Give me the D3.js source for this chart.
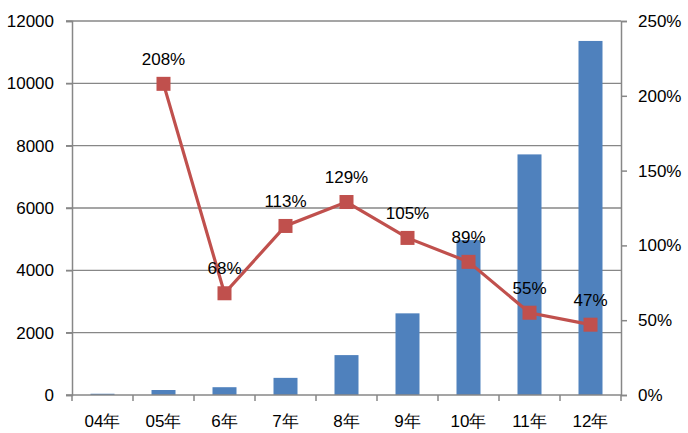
<!DOCTYPE html>
<html>
<head>
<meta charset="utf-8">
<script src="https://cdn.jsdelivr.net/npm/d3@7"></script>
<style>
  body { margin: 0; background: #fff; }
  svg { font-family: "Liberation Sans", Arial, sans-serif; }
</style>
</head>
<body>
<div id="chart"></div>
<script>
// data
var years = ['04年','05年','6年','7年','8年','9年','10年','11年','12年'];
var amounts = [40, 160, 250, 550, 1280, 2620, 4970, 7720, 11360];
var growth = [null, 2.08, 0.68, 1.13, 1.29, 1.05, 0.89, 0.55, 0.47];
var growthLabels = ['', '208%', '68%', '113%', '129%', '105%', '89%', '55%', '47%'];
var leftTicks = [0, 2000, 4000, 6000, 8000, 10000, 12000];
var rightTicks = [0, 0.5, 1, 1.5, 2, 2.5];

var width = 688, height = 433,
    plotLeft = 72, plotRight = 621, plotTop = 21, plotBottom = 395;

var svg = d3.select('#chart').append('svg')
    .attr('width', width)
    .attr('height', height);

var x = d3.scaleBand().domain(years).range([plotLeft, plotRight]);
var y = d3.scaleLinear().domain([0, 12000]).range([plotBottom, plotTop]);
var y2 = d3.scaleLinear().domain([0, 2.5]).range([plotBottom, plotTop]);

var grey = '#878787';

// gridlines
svg.selectAll('.grid').data(leftTicks.slice(1)).enter().append('line')
    .attr('x1', plotLeft - 6).attr('x2', plotRight)
    .attr('y1', function(d){ return y(d); })
    .attr('y2', function(d){ return y(d); })
    .attr('stroke', grey).attr('stroke-width', 1.3);

// bars
svg.selectAll('.bar').data(amounts).enter().append('rect')
    .attr('x', function(d, i){ return x(years[i]) + x.bandwidth()/2 - 12; })
    .attr('width', 24)
    .attr('y', function(d){ return y(d); })
    .attr('height', function(d){ return plotBottom - y(d); })
    .style('fill', '#4F81BD');

// left axis
var gl = svg.append('g').attr('transform', 'translate(' + plotLeft + ',0)')
    .call(d3.axisLeft(y).tickValues(leftTicks).tickSize(6).tickPadding(12).tickFormat(d3.format('d')));
// right axis
var gr = svg.append('g').attr('transform', 'translate(' + plotRight + ',0)')
    .call(d3.axisRight(y2).tickValues(rightTicks).tickSize(6).tickPadding(11).tickFormat(d3.format('.0%')));
// bottom axis
var gb = svg.append('g').attr('transform', 'translate(0,' + plotBottom + ')')
    .call(d3.axisBottom(x).tickSize(0).tickPadding(20));

[gl, gr, gb].forEach(function(g){
  g.select('.domain').attr('stroke', grey).attr('stroke-width', 1.5);
  g.selectAll('.tick line').attr('stroke', grey).attr('stroke-width', 1.5);
  g.selectAll('text').attr('fill', '#000').style('font-size', '17px')
    .style('font-family', '"Liberation Sans", Arial, sans-serif');
});
gb.select('.domain').attr('d', 'M' + (plotLeft - 6) + ',0H' + plotRight);

// category tick marks at band boundaries
svg.selectAll('.ctick').data(d3.range(years.length + 1)).enter().append('line')
    .attr('x1', function(i){ return plotLeft + i * x.step(); })
    .attr('x2', function(i){ return plotLeft + i * x.step(); })
    .attr('y1', plotBottom).attr('y2', plotBottom + 6)
    .attr('stroke', grey).attr('stroke-width', 1.5);

// growth line
var pts = growth.map(function(d, i){ return {v: d, c: years[i], l: growthLabels[i]}; })
    .filter(function(d){ return d.v !== null; });
var line = d3.line()
    .x(function(d){ return x(d.c) + x.bandwidth()/2; })
    .y(function(d){ return y2(d.v); });
svg.append('path').datum(pts)
    .attr('d', line)
    .attr('fill', 'none')
    .attr('stroke', '#C0504D')
    .attr('stroke-width', 3.2);

svg.selectAll('.mk').data(pts).enter().append('rect')
    .attr('x', function(d){ return x(d.c) + x.bandwidth()/2 - 7; })
    .attr('y', function(d){ return y2(d.v) - 7; })
    .attr('width', 14).attr('height', 14)
    .style('fill', '#C0504D');

svg.selectAll('.lbl').data(pts).enter().append('text')
    .attr('x', function(d){ return x(d.c) + x.bandwidth()/2; })
    .attr('y', function(d){ return y2(d.v) - 19; })
    .attr('text-anchor', 'middle')
    .style('font-size', '17px')
    .text(function(d){ return d.l; });
</script>
</body>
</html>
